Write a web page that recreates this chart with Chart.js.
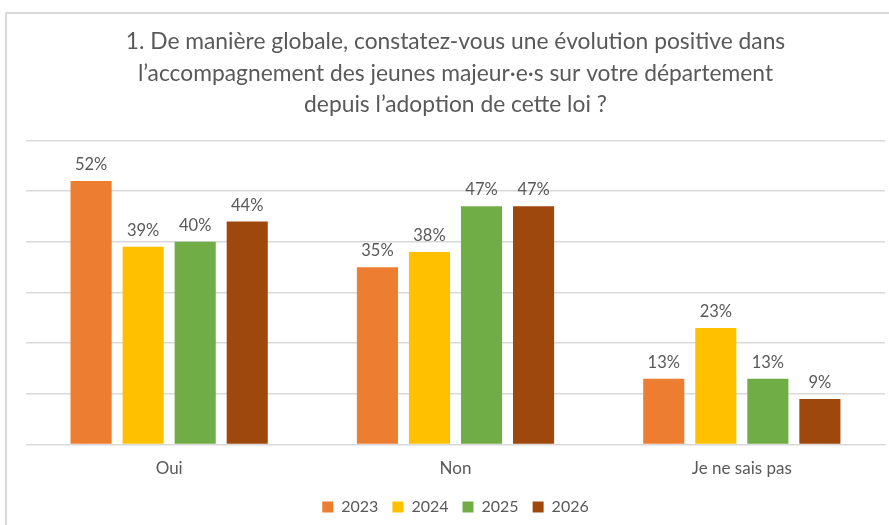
<!DOCTYPE html>
<html>
<head>
<meta charset="utf-8">
<script src="https://cdn.jsdelivr.net/npm/chart.js@4/dist/chart.umd.min.js"></script>
<style>
  body { margin: 0; background: #fff; }
  .wrap { position: relative; width: 889px; height: 525px; }
  .frame { position: absolute; left: 5px; top: 12px; right: 0; bottom: 0;
    border-left: 2px solid #d9d9d9; border-top: 2px solid #d9d9d9; pointer-events: none; }
</style>
</head>
<body>
<div class="wrap">
  <canvas id="chart" width="889" height="525"></canvas>
  <div class="frame"></div>
</div>
<script>
const categories = ['Oui', 'Non', 'Je ne sais pas'];
const years = ['2023', '2024', '2025', '2026'];
const values2023 = [52, 35, 13];
const values2024 = [39, 38, 23];
const values2025 = [40, 47, 13];
const values2026 = [44, 47, 9];
const titleLines = [
  '1. De manière globale, constatez-vous une évolution positive dans',
  'l’accompagnement des jeunes majeur·e·s sur votre département',
  'depuis l’adoption de cette loi ?'
];

const COLORS = ['#ED7D31', '#FFC000', '#70AD47', '#9E480E'];
const FONT = 'Lato, "Liberation Sans", sans-serif';
const GREY = '#595959';

// etiquettes au-dessus des barres
const barLabels = {
  id: 'barLabels',
  afterDatasetsDraw(chart) {
    const ctx = chart.ctx;
    ctx.save();
    ctx.fillStyle = GREY;
    ctx.font = '16.5px ' + FONT;
    ctx.textAlign = 'center';
    ctx.textBaseline = 'bottom';
    chart.data.datasets.forEach((ds, i) => {
      chart.getDatasetMeta(i).data.forEach((bar, j) => {
        ctx.fillText(ds.data[j] + '%', bar.x, bar.y - 8);
      });
    });
    ctx.restore();
  }
};

const data = {
  labels: categories,
  datasets: [
    { label: years[0], data: values2023, backgroundColor: COLORS[0] },
    { label: years[1], data: values2024, backgroundColor: COLORS[1] },
    { label: years[2], data: values2025, backgroundColor: COLORS[2] },
    { label: years[3], data: values2026, backgroundColor: COLORS[3] }
  ]
};

const config = {
  type: 'bar',
  data: data,
  plugins: [barLabels],
  options: {
    responsive: false,
    animation: false,
    datasets: { bar: { categoryPercentage: 0.727, barPercentage: 0.79 } },
    layout: { padding: { left: 26, right: 4, top: 26, bottom: 0 } },
    plugins: {
      title: {
        display: true,
        text: titleLines,
        color: GREY,
        font: { family: FONT, size: 22.8, weight: 'normal', lineHeight: 1.38 },
        padding: { top: 0, bottom: 20 }
      },
      legend: {
        position: 'bottom',
        labels: {
          color: GREY,
          font: { family: FONT, size: 16 },
          boxWidth: 11, boxHeight: 11, padding: 14
        }
      },
      tooltip: { enabled: false }
    },
    scales: {
      x: {
        grid: { display: false },
        border: { color: '#d9d9d9', width: 1 },
        ticks: { color: GREY, font: { family: FONT, size: 17 }, padding: 6 }
      },
      y: {
        min: 0, max: 60,
        ticks: { display: false, stepSize: 10 },
        border: { display: false },
        grid: { color: '#d9d9d9', lineWidth: 1.5, drawTicks: false }
      }
    }
  }
};

new Chart(document.getElementById('chart'), config);
</script>
</body>
</html>
